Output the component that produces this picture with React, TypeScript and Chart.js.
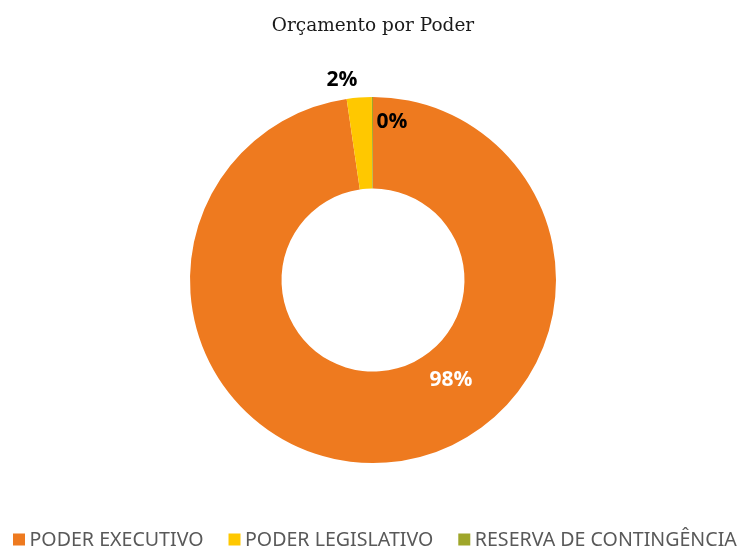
import React, { useEffect, useRef } from "react";
import { Chart, registerables } from "chart.js";

Chart.register(...registerables);

const categories = ["PODER EXECUTIVO", "PODER LEGISLATIVO", "RESERVA DE CONTINGÊNCIA"];
const values = [97.7, 2.2, 0.1];
const colors = ["#EE7A1F", "#FFC800", "#9FA62A"];
const labelColors = ["#FFFFFF", "#000000", "#000000"];
// label placement relative to center, in units of outer radius
const labelOffsets = [
  [0.426, 0.546],
  [-0.169, -1.093],
  [0.104, -0.863],
];

const labelPlugin = {
  id: "pctLabels",
  afterDatasetsDraw(chart: any) {
    const meta = chart.getDatasetMeta(0);
    const ctx = chart.ctx;
    const data = chart.data.datasets[0].data as number[];
    const total = data.reduce((a, b) => a + b, 0);
    ctx.save();
    ctx.font = "bold 21px 'Open Sans', sans-serif";
    ctx.textAlign = "center";
    ctx.textBaseline = "middle";
    meta.data.forEach((arc: any, i: number) => {
      const { x, y, outerRadius } = arc.getProps(["x", "y", "outerRadius"], true);
      const [fx, fy] = labelOffsets[i];
      ctx.fillStyle = labelColors[i];
      ctx.fillText(Math.round((data[i] / total) * 100) + "%", x + fx * outerRadius, y + fy * outerRadius);
    });
    ctx.restore();
  },
};

const legendPlugin = {
  id: "bottomLegend",
  afterDraw(chart: any) {
    const ctx = chart.ctx;
    const labels = chart.data.labels as string[];
    const bg = chart.data.datasets[0].backgroundColor as string[];
    const yMid = chart.height - 9.5;
    const box = 12;
    ctx.save();
    ctx.font = "19.6px 'Noto Sans', sans-serif";
    ctx.textBaseline = "middle";
    ctx.textAlign = "left";
    let x = 13;
    labels.forEach((lab, i) => {
      ctx.fillStyle = bg[i];
      ctx.fillRect(x, yMid - box / 2, box, box);
      x += box + 4.5;
      ctx.fillStyle = "#595959";
      ctx.fillText(lab, x, yMid + 1);
      x += ctx.measureText(lab).width + 25;
    });
    ctx.restore();
  },
};

export default function App() {
  const ref = useRef<HTMLCanvasElement>(null);
  useEffect(() => {
    document.body.style.margin = "0";
    const chart = new Chart(ref.current!, {
      type: "doughnut",
      data: {
        labels: categories,
        datasets: [
          {
            data: values,
            backgroundColor: colors,
            borderWidth: 0,
            radius: 183,
          },
        ],
      },
      options: {
        animation: false,
        responsive: false,
        cutout: "50%",
        layout: { padding: { top: 0, bottom: 46, left: 5, right: 0 } },
        plugins: {
          title: {
            display: true,
            text: "Orçamento por Poder",
            color: "#1a1a1a",
            font: { family: "'DejaVu Serif', serif", size: 18.5, weight: "normal", lineHeight: 1.2 },
            padding: { top: 15, bottom: 20 },
          },
          legend: { display: false },
          tooltip: { enabled: false },
        },
      },
      plugins: [labelPlugin, legendPlugin],
    });
    return () => chart.destroy();
  }, []);
  return (
    <div style={{ position: "absolute", left: 0, top: 0, width: 741, height: 549 }}>
      <canvas ref={ref} width={741} height={549} />
    </div>
  );
}
